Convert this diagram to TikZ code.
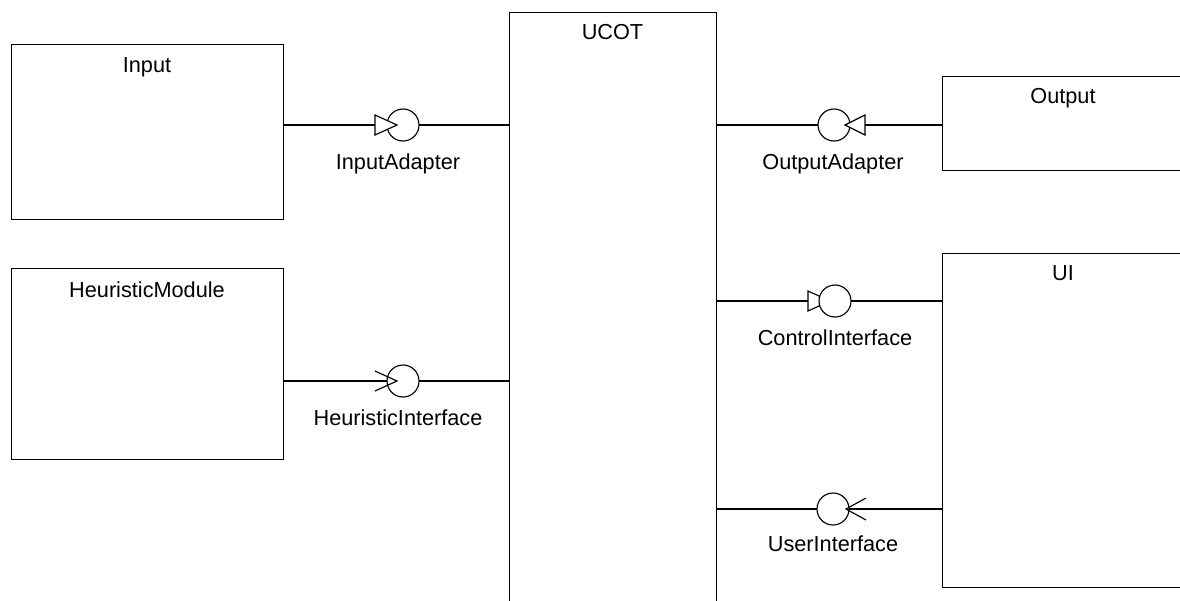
\documentclass[tikz,border=0pt]{standalone}
\usepackage{fontspec}
\setmainfont{Liberation Sans}
\begin{document}
\begin{tikzpicture}[x=1pt,y=-1pt,line width=1.15pt,
  box/.style={draw,rectangle,inner sep=0pt,anchor=north west},
  lbl/.style={inner sep=0pt,anchor=base,font=\fontsize{21.7}{26}\selectfont},
  iface/.style={draw,circle,fill=white,minimum size=32pt,inner sep=0pt},
  tri/.style={draw,fill=white,line join=miter}]
\useasboundingbox (0,0) rectangle (1180,600);
% boxes
\node[box,minimum width=272pt,minimum height=175pt] (input) at (11,44) {};
\node[lbl] (inputl) at (147,72) {Input};
\node[box,minimum width=272pt,minimum height=191pt] (heur) at (11,268) {};
\node[lbl] (heurl) at (147,297) {HeuristicModule};
\node[box,minimum width=207pt,minimum height=600pt] (ucot) at (509,12) {};
\node[lbl] (ucotl) at (612.5,39) {UCOT};
\node[box,minimum width=242pt,minimum height=94pt] (output) at (942,76) {};
\node[lbl] (outputl) at (1063,103) {Output};
\node[box,minimum width=242pt,minimum height=334pt] (ui) at (942,253) {};
\node[lbl] (uil) at (1063,280) {UI};
% interface positions
\coordinate (ia) at (403,125);
\coordinate (hi) at (403,381);
\coordinate (oa) at (834,125);
\coordinate (ci) at (835,301);
\coordinate (us) at (833,509);
% lines
\draw (input.east |- ia) -- (ucot.west |- ia);
\draw (heur.east |- hi) -- (ucot.west |- hi);
\draw (ucot.east |- oa) -- (output.west |- oa);
\draw (ucot.east |- ci) -- (ui.west |- ci);
\draw (ucot.east |- us) -- (ui.west |- us);
% InputAdapter
\node[iface] (iac) at (ia) {};
\draw[tri] ([xshift=-28pt,yshift=-10pt]ia) -- ([xshift=-6pt]ia) -- ([xshift=-28pt,yshift=10pt]ia) -- cycle;
\node[lbl] (ial) at ([xshift=-5pt,yshift=-44pt]ia) {InputAdapter};
% HeuristicInterface
\node[iface] (hic) at (hi) {};
\draw[line join=miter] ([xshift=-28pt,yshift=-10pt]hi) -- ([xshift=-6pt]hi) -- ([xshift=-28pt,yshift=10pt]hi);
\node[lbl] (hil) at ([xshift=-5pt,yshift=-44pt]hi) {HeuristicInterface};
% OutputAdapter
\node[iface] (oac) at (oa) {};
\draw[tri] ([xshift=31pt,yshift=-10pt]oa) -- ([xshift=11pt]oa) -- ([xshift=31pt,yshift=10pt]oa) -- cycle;
\node[lbl] (oal) at ([xshift=-1pt,yshift=-44pt]oa) {OutputAdapter};
% ControlInterface
\draw[tri] ([xshift=-27pt,yshift=-10pt]ci) -- ([xshift=-5pt]ci) -- ([xshift=-27pt,yshift=10pt]ci) -- cycle;
\node[iface] (cic) at (ci) {};
\node[lbl] (cil) at ([xshift=0pt,yshift=-44pt]ci) {ControlInterface};
% UserInterface
\node[iface] (usc) at (us) {};
\draw[line join=miter] ([xshift=33pt,yshift=-11pt]us) -- ([xshift=13pt]us) -- ([xshift=33pt,yshift=11pt]us);
\node[lbl] (usl) at ([xshift=0pt,yshift=-42pt]us) {UserInterface};
\end{tikzpicture}
\end{document}
